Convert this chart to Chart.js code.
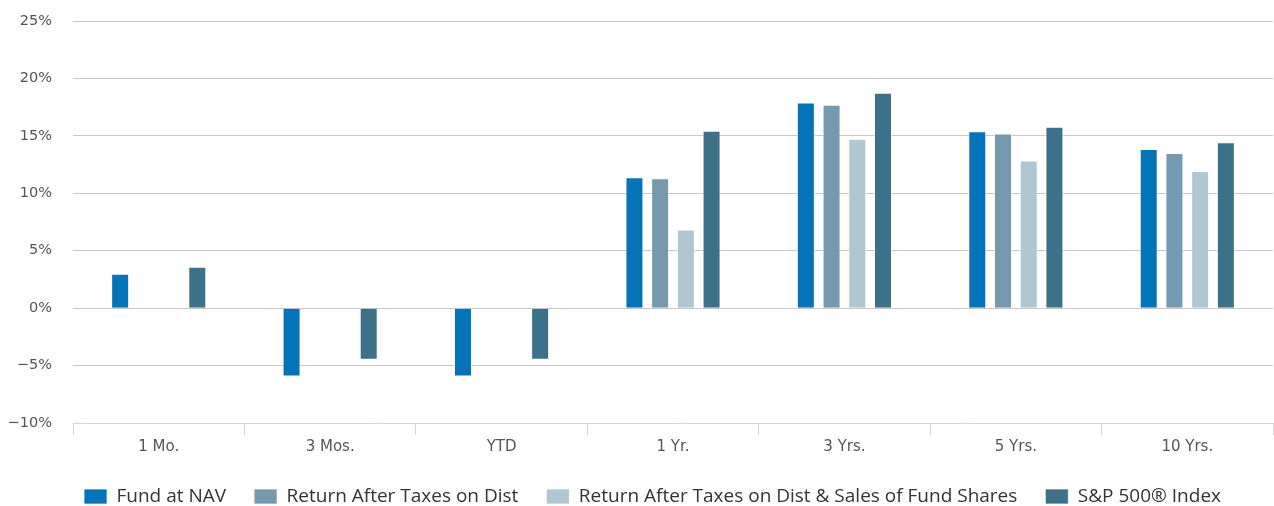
<!DOCTYPE html>
<html>
<head>
<meta charset="utf-8">
<script src="https://cdn.jsdelivr.net/npm/chart.js@4"></script>
<style>
  html, body { margin: 0; padding: 0; background: #fff; }
  #wrap { width: 1274px; height: 506px; position: relative; }
</style>
</head>
<body>
<div id="wrap"><canvas id="returnsChart"></canvas></div>
<script>
const periods = ['1 Mo.', '3 Mos.', 'YTD', '1 Yr.', '3 Yrs.', '5 Yrs.', '10 Yrs.'];
const fundAtNav = [3.0, -5.95, -5.95, 11.4, 17.9, 15.4, 13.85];
const afterTaxDist = [null, null, null, 11.3, 17.7, 15.2, 13.5];
const afterTaxDistSales = [null, null, null, 6.85, 14.75, 12.85, 11.95];
const sp500 = [3.6, -4.5, -4.5, 15.45, 18.75, 15.8, 14.45];
const yTicks = [-10, -5, 0, 5, 10, 15, 20, 25];

function series(label, values, color) {
  return {
    label: label,
    data: values,
    backgroundColor: color,
    borderColor: 'rgba(255,255,255,0.7)',
    borderWidth: 1,
    barPercentage: 0.7,
    categoryPercentage: 0.6
  };
}

// shift the legend a bit to the right, like the original
const legendShift = {
  id: 'legendShift',
  afterLayout(chart) {
    chart.legend.left += 16;
    chart.legend.right += 16;
  }
};

const ctx = document.getElementById('returnsChart').getContext('2d');
const returnsChart = new Chart(ctx, {
  type: 'bar',
  data: {
    labels: periods,
    datasets: [
      series('Fund at NAV', fundAtNav, '#0573b8'),
      series('Return After Taxes on Dist', afterTaxDist, '#7599ae'),
      series('Return After Taxes on Dist & Sales of Fund Shares', afterTaxDistSales, '#afc6d3'),
      series('S&P 500® Index', sp500, '#3d7189')
    ]
  },
  plugins: [legendShift],
  options: {
    responsive: true,
    maintainAspectRatio: false,
    animation: false,
    layout: { padding: { top: 21, right: 1, left: 0, bottom: -10 } },
    plugins: {
      tooltip: { enabled: false },
      legend: {
        position: 'bottom',
        labels: {
          font: { family: 'Open Sans', size: 19 },
          color: '#333',
          boxWidth: 23,
          boxHeight: 15,
          padding: 28
        }
      }
    },
    scales: {
      y: {
        min: -10,
        max: 25,
        afterBuildTicks: axis => { axis.ticks = yTicks.map(v => ({ value: v })); },
        afterFit: axis => {
          axis.width = 73;
          axis.paddingTop = 0;
          axis.paddingBottom = 0;
        },
        border: { display: false },
        grid: { color: '#c6c6c6', lineWidth: 1, drawTicks: false },
        ticks: {
          font: { family: 'DejaVu Sans', size: 14.5 },
          color: '#555',
          padding: 21,
          callback: v => (v < 0 ? '\u2212' + Math.abs(v) : v) + '%'
        }
      },
      x: {
        afterFit: axis => { axis.height = 36; },
        border: { display: true, color: '#c9d6e3', width: 1 },
        grid: {
          offset: true,
          drawOnChartArea: false,
          color: '#c9d6e3',
          tickLength: 12
        },
        ticks: { font: { family: 'DejaVu Sans', size: 15 }, color: '#555', padding: 3 }
      }
    }
  }
});
</script>
</body>
</html>
